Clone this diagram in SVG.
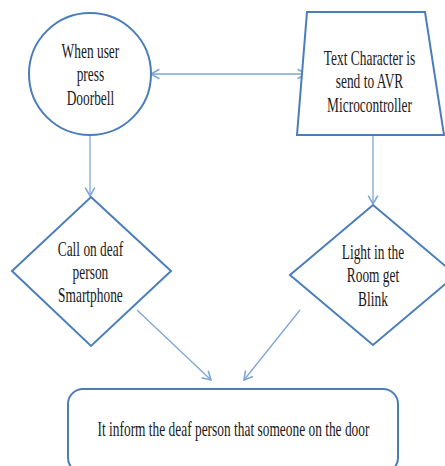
<svg xmlns="http://www.w3.org/2000/svg" width="445" height="466" viewBox="0 0 445 466">
<style>
.node{fill:#ffffff;stroke:#4a7ebb;stroke-width:2}
.conn{fill:none;stroke:#7ea6d8;stroke-width:1.3}
.lbl{font-family:"Liberation Serif","Times New Roman",serif;font-size:20px;fill:#1a1a1a;text-anchor:middle}
</style>
<defs>
<marker id="arr" markerUnits="userSpaceOnUse" markerWidth="12" markerHeight="12" refX="8" refY="5" orient="auto-start-reverse" viewBox="0 0 10 10">
<path d="M1,1 L8,5 L1,9" fill="none" stroke="#7ea6d8" stroke-width="1.3"/>
</marker>
</defs>
<rect width="445" height="466" fill="#ffffff"/>
<g id="connectors">
<line class="conn" x1="151" y1="74" x2="306" y2="74" marker-start="url(#arr)" marker-end="url(#arr)"/>
<line class="conn" x1="90" y1="136" x2="90" y2="196" marker-end="url(#arr)"/>
<line class="conn" x1="373" y1="136" x2="373" y2="204" marker-end="url(#arr)"/>
<line class="conn" x1="137" y1="310" x2="211" y2="380" marker-end="url(#arr)"/>
<line class="conn" x1="300" y1="310" x2="244" y2="380" marker-end="url(#arr)"/>
</g>
<g id="node-doorbell">
<circle class="node" cx="90" cy="74" r="61"/>
<g transform="scale(0.67 1)">
<text class="lbl" x="135" y="58">When user</text>
<text class="lbl" x="135" y="81">press</text>
<text class="lbl" x="135" y="105">Doorbell</text>
</g>
</g>
<g id="node-text-character">
<polygon class="node" points="307,12 425,12 444,135 297,135"/>
<g transform="scale(0.67 1)">
<text class="lbl" x="551.5" y="65">Text Character is</text>
<text class="lbl" x="551.5" y="88">send to AVR</text>
<text class="lbl" x="551.5" y="112">Microcontroller</text>
</g>
</g>
<g id="node-call">
<polygon class="node" points="91,197 171,271 91,346 12,271"/>
<g transform="scale(0.67 1)">
<text class="lbl" x="135" y="256">Call on deaf</text>
<text class="lbl" x="135" y="279">person</text>
<text class="lbl" x="135" y="302">Smartphone</text>
</g>
</g>
<g id="node-light">
<polygon class="node" points="373,205 456,275 373,345 290,275"/>
<g transform="scale(0.67 1)">
<text class="lbl" x="556.7" y="259">Light in the</text>
<text class="lbl" x="556.7" y="282.5">Room get</text>
<text class="lbl" x="556.7" y="306">Blink</text>
</g>
</g>
<g id="node-inform">
<rect class="node" x="68" y="389" width="330" height="84" rx="15" ry="15"/>
<g transform="scale(0.67 1)">
<text class="lbl" x="348.5" y="436">It inform the deaf person that someone on the door</text>
</g>
</g>
</svg>
